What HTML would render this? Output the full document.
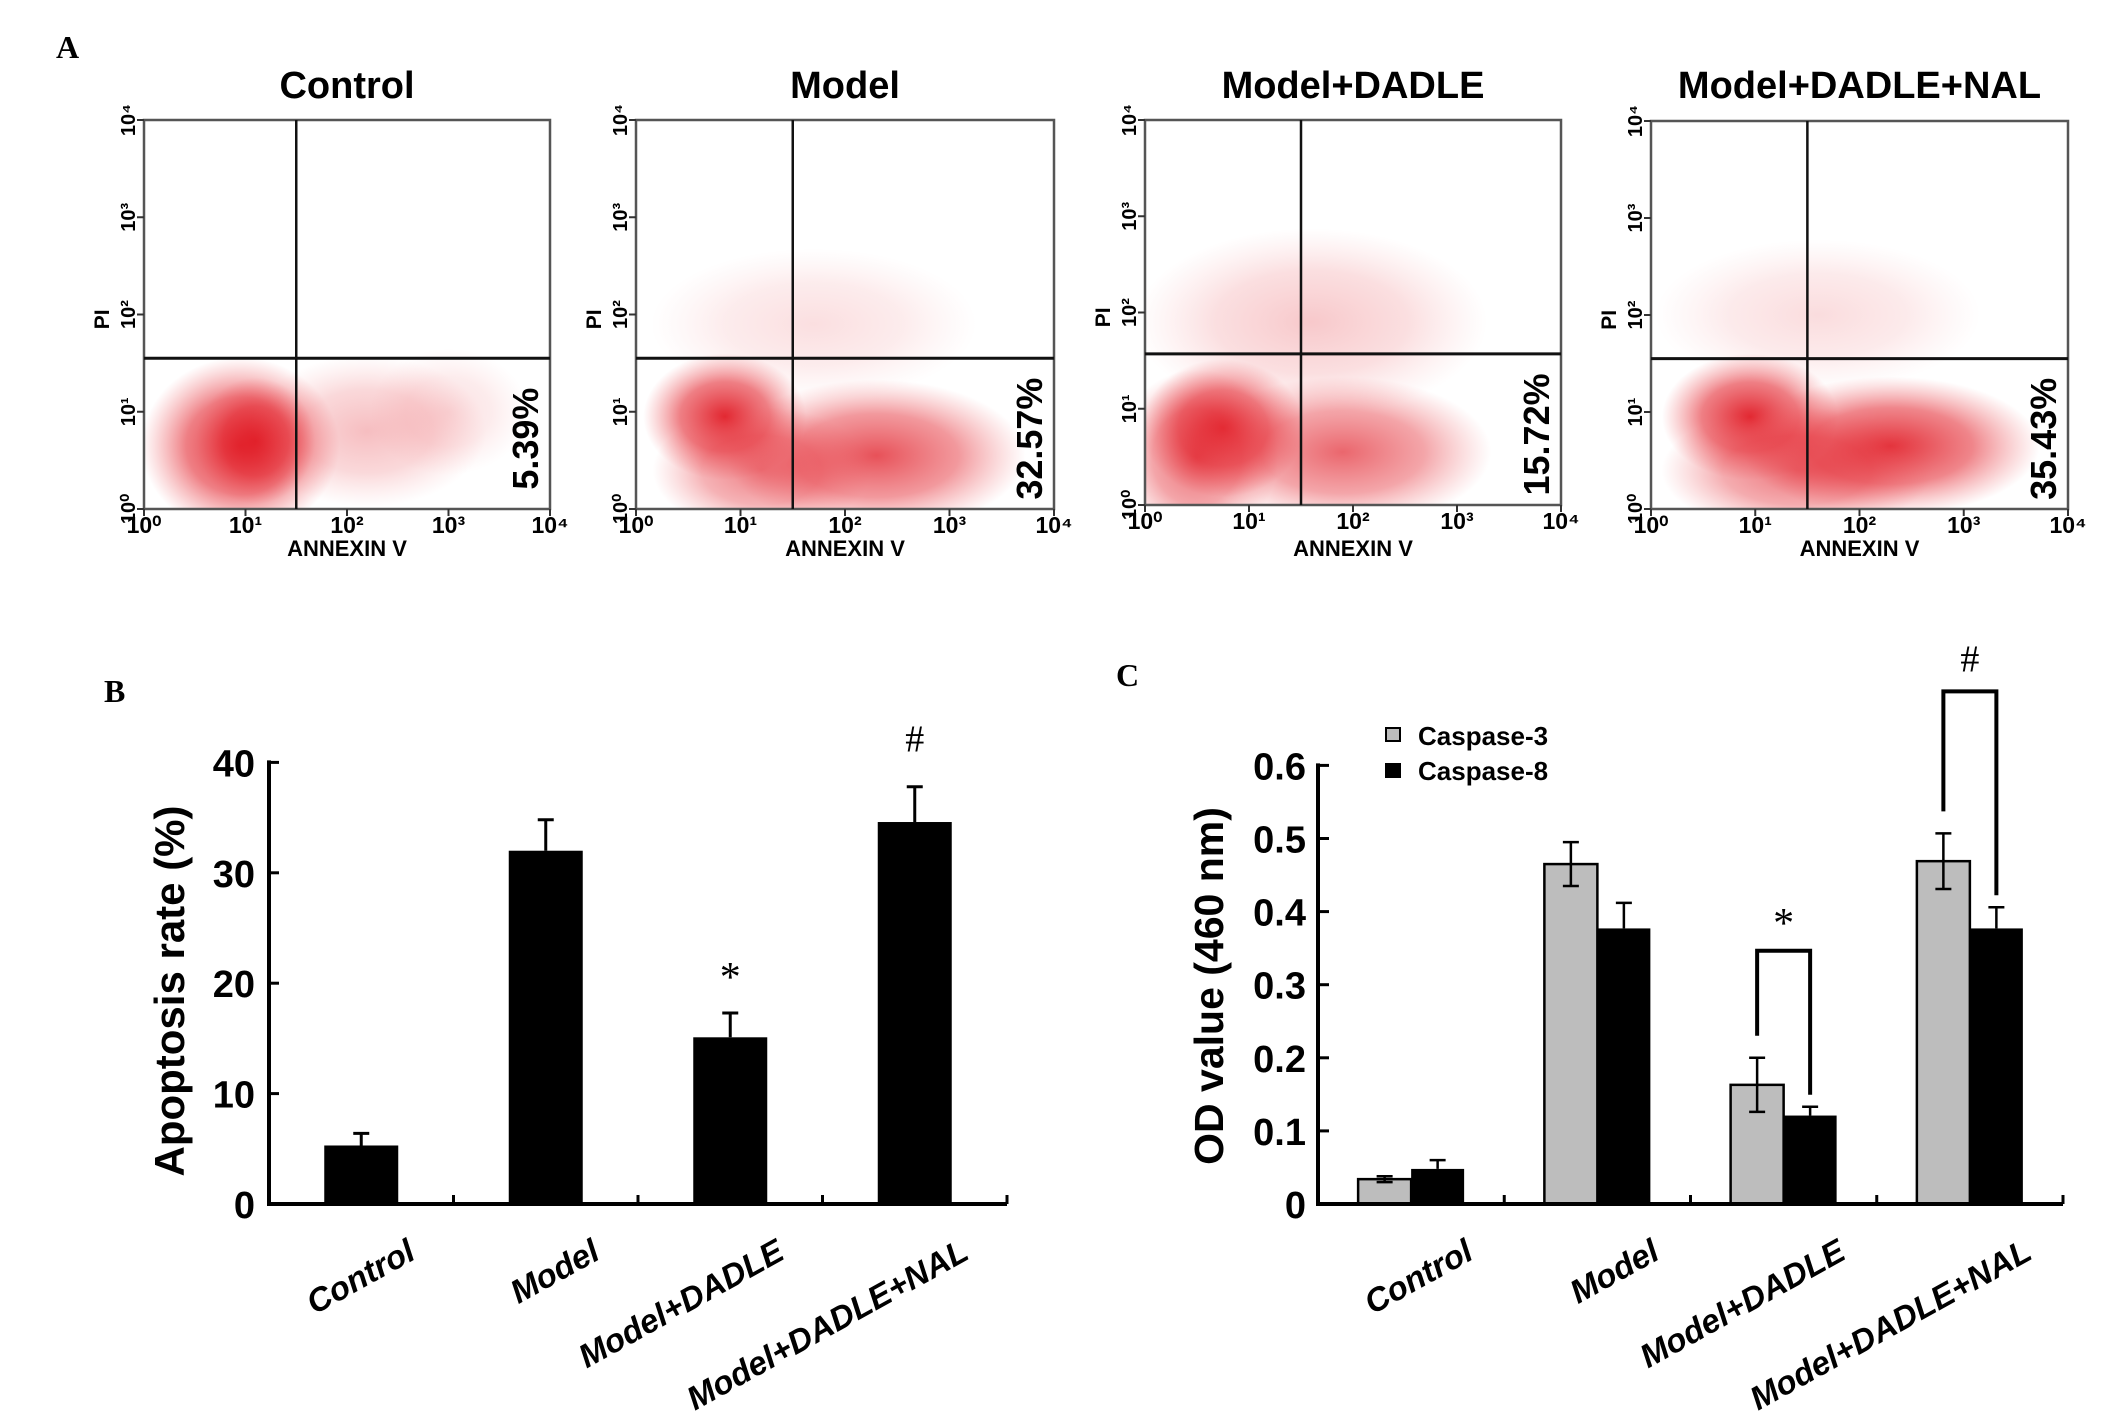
<!DOCTYPE html>
<html><head><meta charset="utf-8"><style>
html,body{margin:0;padding:0;background:#fff}
svg{display:block}
text{font-family:"Liberation Sans",Arial,sans-serif}
text.serif{font-family:"Liberation Serif","Times New Roman",serif}
</style></head><body>
<svg id="fig" width="2126" height="1411" viewBox="0 0 2126 1411" xmlns="http://www.w3.org/2000/svg">
<defs>
<radialGradient id="rg"><stop offset="0" stop-color="#e01a24" stop-opacity="0.95"/><stop offset="0.55" stop-color="#e42a33" stop-opacity="0.6"/><stop offset="1" stop-color="#ee5a60" stop-opacity="0"/></radialGradient>
</defs>
<text class="serif" x="56" y="58" font-weight="bold" font-size="32">A</text>
<text class="serif" x="104" y="702" font-weight="bold" font-size="32">B</text>
<text class="serif" x="1116" y="686" font-weight="bold" font-size="32">C</text>
<g id="flow"></g>
<g id="chartB"></g>
<g id="chartC"></g>
</svg>
<script>
// ---------- Panel A data ----------
const flowTitles = ["Control", "Model", "Model+DADLE", "Model+DADLE+NAL"];
const flowPercents = ["5.39%", "32.57%", "15.72%", "35.43%"];
const flowGateX = [1.5, 1.5, 1.5, 1.5];     // log10 annexin gate
const flowGateY = [1.55, 1.55, 1.57, 1.55]; // log10 PI gate
// clusters: [cx, cy, sx, sy, intensity] in log10 units
const flowClusters = [
  [[0.95,0.65,0.75,0.7,1.0],[1.1,0.7,0.45,0.5,0.9],[2.2,0.8,0.9,0.6,0.3],[3.0,1.0,0.6,0.5,0.15]],
  [[0.85,0.95,0.6,0.5,1.0],[2.3,0.55,1.1,0.6,0.8],[1.2,0.4,0.8,0.5,0.6],[1.7,1.9,1.2,0.6,0.15]],
  [[0.75,0.8,0.6,0.55,1.0],[0.5,0.5,0.6,0.7,0.7],[1.9,0.55,1.1,0.6,0.7],[1.6,1.9,1.3,0.75,0.25]],
  [[0.95,0.95,0.65,0.5,1.0],[2.3,0.65,1.1,0.55,0.95],[1.4,0.4,1.0,0.5,0.65],[1.6,2.0,1.2,0.6,0.16]]
];
const flowTicks = ["10\u2070","10\u00B9","10\u00B2","10\u00B3","10\u2074"];

// ---------- Panel B data ----------
const catsB = ["Control","Model","Model+DADLE","Model+DADLE+NAL"];
const valsB = [5.3, 32.0, 15.1, 34.6];
const errB = [1.1, 2.8, 2.2, 3.2];
const ticksB = [0,10,20,30,40];
const marksB = ["","","*","#"];

// ---------- Panel C data ----------
const catsC = ["Control","Model","Model+DADLE","Model+DADLE+NAL"];
const casp3 = [0.034, 0.465, 0.163, 0.469];
const casp3Err = [0.004, 0.030, 0.037, 0.038];
const casp8 = [0.048, 0.377, 0.121, 0.377];
const casp8Err = [0.012, 0.035, 0.012, 0.029];
const ticksC = [0,0.1,0.2,0.3,0.4,0.5,0.6];
const tickLabelsC = ["0","0.1","0.2","0.3","0.4","0.5","0.6"];

const NS = "http://www.w3.org/2000/svg";
function mk(parent, tag, attrs, txt){
  const e = document.createElementNS(NS, tag);
  for (const k in attrs) e.setAttribute(k, attrs[k]);
  if (txt !== undefined) e.textContent = txt;
  parent.appendChild(e);
  return e;
}

// ---------- Panel A ----------
const boxes = [[144,120,550,509],[636,120,1054,509],[1145,120,1561,505],[1651,121,2068,509]];
const flow = document.getElementById('flow');
boxes.forEach((b,i)=>{
  const [x0,y0,x1,y1] = b;
  const g = mk(flow,'g',{});
  
  
  const sx = v => x0 + (x1-x0)*v/4;
  const sy = v => y1 - (y1-y0)*v/4;
  const cid = 'clip'+i;
  const cp = mk(g,'clipPath',{id:cid});
  mk(cp,'rect',{x:x0,y:y0,width:x1-x0,height:y1-y0});
  const cg = mk(g,'g',{'clip-path':'url(#'+cid+')'});
  flowClusters[i].forEach(c=>{
    const el = mk(cg,'ellipse',{cx:sx(c[0]),cy:sy(c[1]),rx:(x1-x0)*c[2]/4*1.3,ry:(y1-y0)*c[3]/4*1.3,fill:'url(#rg)','fill-opacity':c[4]});
    
    
  });
  const t = mk(g,'text',{x:(x0+x1)/2,y:98,'text-anchor':'middle','font-weight':'bold','font-size':38},flowTitles[i]);
  
  
  mk(g,'rect',{x:x0,y:y0,width:x1-x0,height:y1-y0,fill:'none',stroke:'#555',"stroke-width":2.5});
  const vl = mk(g,'line',{x1:sx(flowGateX[i]),x2:sx(flowGateX[i]),y1:y0,y2:y1,stroke:'#111','stroke-width':2.5});
  
  
  const hl = mk(g,'line',{x1:x0,x2:x1,y1:sy(flowGateY[i]),y2:sy(flowGateY[i]),stroke:'#111','stroke-width':3});
  
  
  flowTicks.forEach((lab,k)=>{
    mk(g,'line',{x1:sx(k),x2:sx(k),y1:y1,y2:y1+7,stroke:'#333','stroke-width':2});
    mk(g,'line',{x1:x0-7,x2:x0,y1:sy(k),y2:sy(k),stroke:'#333','stroke-width':2});
    const tx = mk(g,'text',{x:sx(k),y:y1+24,'text-anchor':'middle','font-weight':'bold','font-size':23},lab);
    
    
    const ty = mk(g,'text',{x:0,y:0,'text-anchor':'middle','font-weight':'bold','font-size':20,transform:`translate(${x0-9},${sy(k)}) rotate(-90)`},lab);
    
    
  });
  const xt = mk(g,'text',{x:(x0+x1)/2,y:556,'text-anchor':'middle','font-weight':'bold','font-size':22},'ANNEXIN V');
  
  
  const yt = mk(g,'text',{x:0,y:0,'text-anchor':'middle','font-weight':'bold','font-size':21,transform:`translate(${x0-35},${sy(1.95)}) rotate(-90)`},'PI');
  
  
  const pc = mk(g,'text',{x:0,y:0,'text-anchor':'middle','font-weight':'bold','font-size':36,transform:`translate(${x1-12},${(sy(flowGateY[i])+y1)/2+5}) rotate(-90)`},flowPercents[i]);
  
  
});

// ---------- Panel B ----------
(function(){
  const g = document.getElementById('chartB');
  const X0=269, X1=1007, Y0=1204, Ypx=11.04;
  const sy = v => Y0 - v*Ypx;
  const cw = (X1-X0)/catsB.length;
  const cx = i => X0 + cw*(i+0.5);
  const bw = 74;
  valsB.forEach((v,i)=>{
    const r = mk(g,'rect',{x:cx(i)-bw/2,y:sy(v),width:bw,height:Y0-sy(v),fill:'#000'});
    
    
    const e = mk(g,'path',{d:`M${cx(i)},${sy(v)} V${sy(v+errB[i])} M${cx(i)-8},${sy(v+errB[i])} H${cx(i)+8}`,stroke:'#000','stroke-width':3,fill:'none'});
    
    
    if (marksB[i]) {
      const m = mk(g,'text',{x:cx(i),y:sy(v+errB[i])-(marksB[i]==='*'?22:35),'text-anchor':'middle','font-size':marksB[i]==='*'?42:38,'class':'serif'},marksB[i]);
      
      
    }
    const l = mk(g,'text',{x:0,y:0,'text-anchor':'end','font-weight':'bold','font-style':'italic','font-size':33,transform:`translate(${cx(i)+56},${1258}) rotate(-29)`},catsB[i]);
    
    
  });
  const ax = mk(g,'path',{d:`M${X0},${sy(40)-2} V${Y0} H${X1}`,stroke:'#000','stroke-width':4,fill:'none'});
  
  
  for (let k=1;k<catsB.length;k++) mk(g,'line',{x1:X0+cw*k,x2:X0+cw*k,y1:Y0,y2:Y0-9,stroke:'#000','stroke-width':3});
  mk(g,'line',{x1:X1,x2:X1,y1:Y0,y2:Y0-9,stroke:'#000','stroke-width':3});
  ticksB.forEach(t=>{
    mk(g,'line',{x1:X0,x2:X0+10,y1:sy(t),y2:sy(t),stroke:'#000','stroke-width':3});
    const tl = mk(g,'text',{x:X0-14,y:sy(t)+14,'text-anchor':'end','font-weight':'bold','font-size':38},String(t));
    
    
  });
  const yt = mk(g,'text',{x:0,y:0,'text-anchor':'middle','font-weight':'bold','font-size':42,transform:'translate(184,991) rotate(-90)'},'Apoptosis rate (%)');
  
  
})();

// ---------- Panel C ----------
(function(){
  const g = document.getElementById('chartC');
  const X0=1318, X1=2063, Y0=1204, Ypx=731;
  const sy = v => Y0 - v*Ypx;
  const cw = (X1-X0)/catsC.length;
  const cx = i => X0 + cw*(i+0.5);
  const bw = 53;
  catsC.forEach((c,i)=>{
    const a = casp3[i], b = casp8[i];
    const r1 = mk(g,'rect',{x:cx(i)-bw,y:sy(a),width:bw,height:Y0-sy(a),fill:'#bdbdbd',stroke:'#000','stroke-width':2.5});
    
    
    const r2 = mk(g,'rect',{x:cx(i),y:sy(b),width:bw,height:Y0-sy(b),fill:'#000'});
    
    
    const x1 = cx(i)-bw/2, x2 = cx(i)+bw/2;
    const e1 = mk(g,'path',{d:`M${x1},${sy(a-casp3Err[i])} V${sy(a+casp3Err[i])} M${x1-8},${sy(a+casp3Err[i])} H${x1+8} M${x1-8},${sy(a-casp3Err[i])} H${x1+8}`,stroke:'#000','stroke-width':2.5,fill:'none'});
    
    
    const e2 = mk(g,'path',{d:`M${x2},${sy(b)} V${sy(b+casp8Err[i])} M${x2-8},${sy(b+casp8Err[i])} H${x2+8}`,stroke:'#000','stroke-width':2.5,fill:'none'});
    
    
    const l = mk(g,'text',{x:0,y:0,'text-anchor':'end','font-weight':'bold','font-style':'italic','font-size':33,transform:`translate(${cx(i)+64},${1258}) rotate(-29)`},c);
    
    
  });
  // significance brackets
  [[2,'*'],[3,'#']].forEach(([i,sym])=>{
    const x1 = cx(i)-bw/2, x2 = cx(i)+bw/2;
    const top1 = sy(casp3[i]+casp3Err[i])-22, top2 = sy(casp8[i]+casp8Err[i])-12;
    const topY = Math.min(top1,top2) - (i===2?85:120);
    const br = mk(g,'path',{d:`M${x1},${top1} V${topY} H${x2} V${top2}`,stroke:'#000','stroke-width':4,fill:'none'});
    
    
    const m = mk(g,'text',{x:(x1+x2)/2,y:topY-(sym==='*'?14:20),'text-anchor':'middle','font-size':sym==='*'?42:38,'class':'serif'},sym);
    
    
  });
  const ax = mk(g,'path',{d:`M${X0},${sy(0.6)-2} V${Y0} H${X1}`,stroke:'#000','stroke-width':4,fill:'none'});
  
  
  for (let k=1;k<=catsC.length;k++) mk(g,'line',{x1:X0+cw*k,x2:X0+cw*k,y1:Y0,y2:Y0-9,stroke:'#000','stroke-width':3});
  ticksC.forEach((t,k)=>{
    mk(g,'line',{x1:X0,x2:X0+11,y1:sy(t),y2:sy(t),stroke:'#000','stroke-width':3});
    const tl = mk(g,'text',{x:X0-12,y:sy(t)+14,'text-anchor':'end','font-weight':'bold','font-size':38},tickLabelsC[k]);
    
    
  });
  const yt = mk(g,'text',{x:0,y:0,'text-anchor':'middle','font-weight':'bold','font-size':41,transform:'translate(1223,986) rotate(-90)'},'OD value (460 nm)');
  
  
  // legend
  const lg = mk(g,'g',{});
  
  
  mk(lg,'rect',{x:1386,y:728,width:14,height:13,fill:'#bdbdbd',stroke:'#000','stroke-width':2});
  mk(lg,'rect',{x:1385,y:763,width:16,height:15,fill:'#000'});
  const t1 = mk(lg,'text',{x:1418,y:745,'font-weight':'bold','font-size':26},'Caspase-3');
  
  
  const t2 = mk(lg,'text',{x:1418,y:780,'font-weight':'bold','font-size':26},'Caspase-8');
  
  
})();
</script>
</body></html>
